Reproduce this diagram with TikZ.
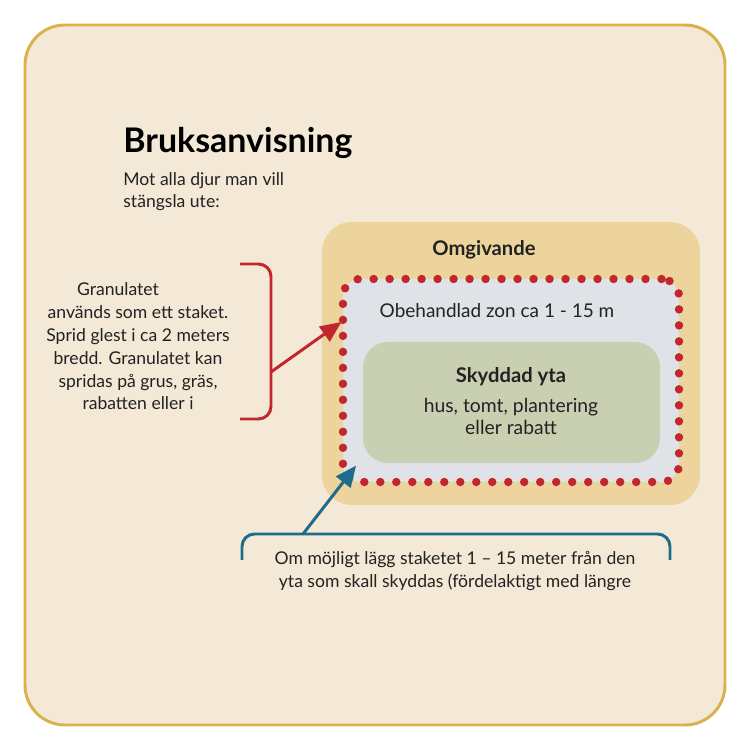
\documentclass[tikz,border=0pt]{standalone}
\usepackage{fontspec}
\setmainfont{Lato}
\usetikzlibrary{arrows.meta,positioning}
\definecolor{paper}{HTML}{F4E9D6}
\definecolor{framegold}{HTML}{D8B34C}
\definecolor{outerfill}{HTML}{ECD49C}
\definecolor{zonefill}{HTML}{DFE3E8}
\definecolor{safefill}{HTML}{C9CFB1}
\definecolor{fencered}{HTML}{C1272D}
\definecolor{hintblue}{HTML}{1F6B8C}
\definecolor{inkgray}{HTML}{222222}
\tikzset{
  areabox/.style={rounded corners=#1,inner sep=0pt},
  bodytext/.style={font=\fontsize{10}{13}\selectfont,align=center,text=inkgray,inner sep=0pt},
  boldtext/.style={font=\fontsize{11.5}{13}\selectfont\bfseries,text=inkgray,inner sep=0pt},
  bracketline/.style={line width=1.7pt,rounded corners=0.25cm},
  pointer/.style={-{Triangle[length=4.2mm,width=3.6mm]},line width=1.7pt,shorten >=-1pt}
}
\begin{document}
\begin{tikzpicture}
\useasboundingbox (0,0) rectangle (15,15);
\fill[white] (0,0) rectangle (15,15);
\draw[framegold,fill=paper,line width=1.7pt,rounded corners=0.8cm] (0.5,0.5) rectangle (14.5,14.5);
% title block
\node[anchor=base west,inner sep=0pt,font=\fontsize{19.3}{21}\selectfont\bfseries,text=black] (title) at (2.46,11.94) {Bruksanvisning};
\node[bodytext,align=left,anchor=base west] (subtitle) at (2.46,10.84) {Mot alla djur man vill\\stängsla ute:};
% nested areas
\node[areabox=0.6cm,fill=outerfill,minimum width=7.56cm,minimum height=5.66cm] (outer) at (10.22,7.73) {};
\node[areabox=0.35cm,fill=zonefill,draw=fencered,line width=4.8pt,line cap=round,
  dash pattern=on 0pt off 9.1pt,minimum width=6.72cm,minimum height=4.06cm] (zone) at (10.22,7.39) {};
\node[areabox=0.5cm,fill=safefill,minimum width=5.94cm,minimum height=2.42cm] (safe) at (10.23,6.95) {};
\node[boldtext,anchor=base] (outerlabel) at (9.68,9.88) {Omgivande};
\node[bodytext,anchor=base,font=\fontsize{10.8}{13}\selectfont] (zonelabel) at (9.94,8.64) {Obehandlad zon ca 1 - 15 m};
\node[boldtext,anchor=base] (safelabel) at (10.22,7.34) {Skyddad yta};
\node[bodytext,anchor=base,font=\fontsize{11}{12.6}\selectfont] (safetext) at (10.22,6.3) {hus, tomt, plantering\\eller rabatt};
% left note with red bracket
\node[bodytext,anchor=base] (fencenote) at (2.76,6.8) {Granulatet\hspace*{0.8cm}\\används som ett staket.\\Sprid glest i ca 2 meters\\bredd. Granulatet kan\\spridas på grus, gräs,\\rabatten eller i};
\coordinate (redtop) at (4.8,9.72);
\coordinate (redbot) at (4.8,6.62);
\coordinate (redmid) at (5.42,7.56);
\coordinate (redtip) at (6.8,8.54);
\draw[bracketline,fencered] (redtop) -- (5.42,9.72) -- (5.42,6.62) -- (redbot);
\draw[pointer,fencered] (redmid) -- (redtip);
% bottom note with blue bracket
\node[bodytext,anchor=base,font=\fontsize{10}{13.6}\selectfont] (distnote) at (9.1,3.24) {Om möjligt lägg staketet 1 – 15 meter från den\\yta som skall skyddas (fördelaktigt med längre};
\coordinate (blueleft) at (4.84,3.8);
\coordinate (blueright) at (13.4,3.8);
\coordinate (bluestart) at (6.06,4.32);
\coordinate (bluetip) at (7.1,5.66);
\draw[bracketline,hintblue] (blueleft) -- (4.84,4.32) -- (13.4,4.32) -- (blueright);
\draw[pointer,hintblue] (bluestart) -- (bluetip);
\end{tikzpicture}
\end{document}
